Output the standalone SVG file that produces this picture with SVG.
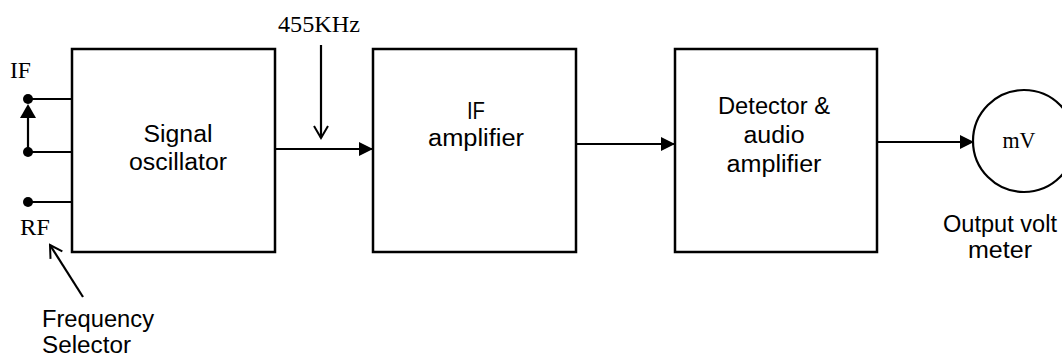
<svg xmlns="http://www.w3.org/2000/svg" width="1062" height="356" viewBox="0 0 1062 356">
<style>
.box{fill:#fff;stroke:#000;stroke-width:2.5}
.ln{fill:none;stroke:#000;stroke-width:2.2}
.sans{font-family:"Liberation Sans",Arial,sans-serif;font-size:23px;fill:#000}
.serif{font-family:"Liberation Serif","Times New Roman",serif;font-size:23px;fill:#000}
.mid{text-anchor:middle}
</style>
<defs>
<marker id="fill" markerWidth="14" markerHeight="14" refX="13" refY="7" orient="auto" markerUnits="userSpaceOnUse" viewBox="0 0 14 14">
<path d="M0,0 L14,7 L0,14 Z" fill="#000"/>
</marker>
<marker id="open" markerWidth="16" markerHeight="16" refX="14" refY="8" orient="auto" markerUnits="userSpaceOnUse" viewBox="0 0 16 16">
<path d="M2,1 L14,8 L2,15" fill="none" stroke="#000" stroke-width="2"/>
</marker>
</defs>
<rect width="1062" height="356" fill="#fff"/>

<g id="selector">
<line class="ln" x1="28" y1="99" x2="72" y2="99"/>
<line class="ln" x1="28" y1="152" x2="72" y2="152"/>
<line class="ln" x1="28" y1="202" x2="72" y2="202"/>
<circle cx="28" cy="99" r="5" fill="#000"/>
<circle cx="28" cy="152" r="5" fill="#000"/>
<circle cx="28" cy="202" r="5" fill="#000"/>
<line class="ln" x1="28" y1="152" x2="28" y2="116"/>
<path d="M28,104 L36,118 L20,118 Z" fill="#000"/>
<text class="serif" x="10" y="78" textLength="21" lengthAdjust="spacingAndGlyphs">IF</text>
<text class="serif" x="20" y="235" textLength="30" lengthAdjust="spacingAndGlyphs">RF</text>
<text class="sans" x="42" y="327" textLength="112" lengthAdjust="spacingAndGlyphs">Frequency</text>
<text class="sans" x="42" y="353" textLength="89" lengthAdjust="spacingAndGlyphs">Selector</text>
</g>

<g id="oscillator">
<rect class="box" x="72" y="49" width="203" height="203"/>
<text class="sans mid" x="178" y="142" textLength="69" lengthAdjust="spacingAndGlyphs">Signal</text>
<text class="sans mid" x="178" y="170" textLength="98" lengthAdjust="spacingAndGlyphs">oscillator</text>
</g>

<g id="ifamp">
<rect class="box" x="373" y="49" width="203" height="203"/>
<text class="sans mid" x="476" y="119" textLength="18" lengthAdjust="spacingAndGlyphs">IF</text>
<text class="sans mid" x="476" y="146" textLength="96" lengthAdjust="spacingAndGlyphs">amplifier</text>
</g>

<g id="detector">
<rect class="box" x="675" y="49" width="202" height="203"/>
<text class="sans mid" x="774" y="114" textLength="112" lengthAdjust="spacingAndGlyphs">Detector &amp;</text>
<text class="sans mid" x="774" y="143" textLength="61" lengthAdjust="spacingAndGlyphs">audio</text>
<text class="sans mid" x="774" y="172" textLength="95" lengthAdjust="spacingAndGlyphs">amplifier</text>
</g>

<g id="meter">
<circle cx="1024" cy="141" r="51" fill="#fff" stroke="#000" stroke-width="2.2"/>
<text class="serif mid" x="1019" y="148" textLength="33" lengthAdjust="spacingAndGlyphs">mV</text>
<text class="sans mid" x="1000" y="232" textLength="114" lengthAdjust="spacingAndGlyphs">Output volt</text>
<text class="sans mid" x="1000" y="258" textLength="64" lengthAdjust="spacingAndGlyphs">meter</text>
</g>

<g id="freq-label">
<text class="serif mid" x="319" y="32" textLength="82" lengthAdjust="spacingAndGlyphs">455KHz</text>
</g>

<g id="connectors">
<line class="ln" x1="275" y1="149" x2="372" y2="149" marker-end="url(#fill)"/>
<line class="ln" x1="321" y1="45" x2="321" y2="138" marker-end="url(#open)"/>
<line class="ln" x1="577" y1="144" x2="674" y2="144" marker-end="url(#fill)"/>
<line class="ln" x1="877" y1="142" x2="973" y2="142" marker-end="url(#fill)"/>
<line class="ln" x1="83" y1="297" x2="50" y2="245" marker-end="url(#open)"/>
</g>
</svg>
